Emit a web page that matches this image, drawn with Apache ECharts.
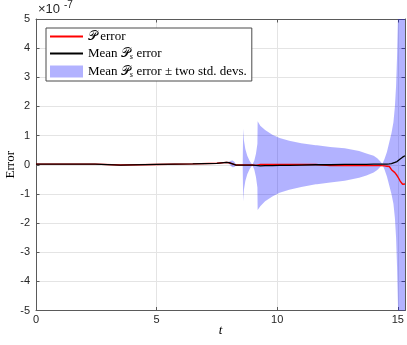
<!DOCTYPE html>
<html>
<head>
<meta charset="utf-8">
<script src="https://cdn.jsdelivr.net/npm/echarts@6/dist/echarts.min.js"></script>
<style>
html, body { margin: 0; padding: 0; background: #fff; }
#chart { width: 407px; height: 345px; }
</style>
</head>
<body>
<div id="chart"></div>
<script>
// values are in units of 1e-7
var tVals   = [0, 1.0, 2.45, 2.5, 3.5, 5.0, 6.5, 7.5, 7.9, 8.0, 8.08, 8.15, 8.22, 8.3, 8.36, 8.57, 8.59, 8.62, 8.68, 8.76, 8.86, 8.97, 9.05, 9.12, 9.18, 9.19, 9.3, 9.5, 9.8, 10.1, 10.5, 11.0, 11.6, 11.65, 12.2, 12.8, 13.4, 13.7, 14.0, 14.15, 14.28, 14.36, 14.45, 14.55, 14.65, 14.74, 14.82, 14.88, 14.93, 14.97, 15.01, 15.05, 15.1, 15.2, 15.25, 15.3];
var meanErr = [0.02, 0.02, 0.02, -0.02, -0.01, 0.01, 0.03, 0.05, 0.08, 0.07, 0.05, 0.03, 0.01, -0.01, -0.01, -0.01, -0.01, -0.01, -0.01, -0.01, -0.01, -0.01, -0.01, -0.02, -0.03, -0.03, -0.04, -0.03, -0.03, -0.02, -0.02, -0.01, 0.0, 0.0, 0.0, 0.01, 0.01, 0.01, 0.02, 0.02, 0.02, 0.02, 0.02, 0.02, 0.03, 0.04, 0.06, 0.08, 0.1, 0.11, 0.13, 0.16, 0.2, 0.26, 0.29, 0.31];
var pErr    = [0.02, 0.02, 0.02, -0.02, -0.01, 0.01, 0.03, 0.05, 0.08, 0.07, 0.05, 0.03, 0.01, -0.01, -0.01, -0.01, -0.01, -0.01, -0.01, -0.01, -0.01, -0.01, -0.01, -0.02, -0.03, 0.0, 0.01, 0.01, 0.01, 0.01, 0.01, 0.01, 0.01, -0.03, -0.03, -0.03, -0.03, -0.03, -0.03, -0.03, -0.03, -0.03, -0.04, -0.05, -0.06, -0.17, -0.22, -0.27, -0.32, -0.37, -0.42, -0.48, -0.56, -0.67, -0.69, -0.66];
var twoStd  = [0, 0, 0, 0, 0, 0, 0, 0, 0, 0.03, 0.09, 0.12, 0.09, 0.02, 0, 0, 1.25, 0.85, 0.55, 0.32, 0.14, 0.01, 0.15, 0.4, 0.75, 1.52, 1.38, 1.22, 1.06, 0.94, 0.84, 0.75, 0.67, 0.665, 0.61, 0.56, 0.46, 0.38, 0.29, 0.2, 0.09, 0.01, 0.18, 0.42, 0.75, 1.05, 1.4, 1.9, 2.6, 3.6, 5.0, 7.5, 11, 18, 20, 20];

function pairs(ys) {
    return tVals.map(function (t, i) { return [t, ys[i]]; });
}
var bandHigh = meanErr.map(function (m, i) { return m + twoStd[i]; });
var bandLow = meanErr.map(function (m, i) { return m - twoStd[i]; });

var axisCol = '#5a5a5a';
var bandCol = 'rgba(0,0,255,0.3)';

var myChart = echarts.init(document.getElementById('chart'));
var option = {
    animation: false,
    backgroundColor: '#fff',
    grid: { left: 36, right: 2, top: 19, bottom: 34.5, containLabel: false, outerBoundsMode: 'none' },
    legend: {
        show: true,
        orient: 'vertical',
        left: 46,
        top: 28,
        padding: [2, 5, 2, 3],
        itemWidth: 33,
        itemHeight: 12,
        itemGap: 3,
        backgroundColor: '#fff',
        borderColor: '#4a4a4a',
        borderWidth: 1,
        borderRadius: 0,
        data: [
            { name: 'P error', itemStyle: { opacity: 0 } },
            { name: 'Mean Ps error', itemStyle: { opacity: 0 } },
            { name: 'band', icon: 'rect', itemStyle: { color: bandCol } }
        ],
        formatter: function (name) {
            if (name === 'P error') return '{cal|𝒫} {t|error}';
            if (name === 'Mean Ps error') return '{t|Mean} {cal|𝒫}{sub|s} {t|error}';
            return '{t|Mean} {cal|𝒫}{sub|s} {t|error ± two std. devs.}';
        },
        textStyle: {
            color: '#000',
            fontFamily: 'Liberation Serif, DejaVu Serif, serif',
            fontSize: 13,
            rich: {
                t: { fontSize: 13, fontFamily: 'Liberation Serif, DejaVu Serif, serif', lineHeight: 14 },
                cal: { fontSize: 12.5, fontWeight: 'normal', fontFamily: 'DejaVu Serif, DejaVu Sans, serif', lineHeight: 14 },
                sub: { fontSize: 8.5, fontStyle: 'italic', fontFamily: 'Liberation Serif, serif', padding: [6, 0, 0, 0], lineHeight: 14 }
            }
        }
    },
    xAxis: [{
        type: 'value',
        min: 0, max: 15.3, interval: 5,
        name: 't',
        nameLocation: 'middle',
        nameGap: 14,
        nameMoveOverlap: false,
        nameTextStyle: { fontFamily: 'Liberation Serif, serif', fontStyle: 'italic', fontSize: 13, color: '#000' },
        axisLine: { show: true, onZero: false, lineStyle: { color: axisCol, width: 1 } },
        axisTick: { show: true, inside: true, length: 3.5, lineStyle: { color: axisCol } },
        axisLabel: { show: true, showMaxLabel: false, margin: 4, color: '#262626', fontSize: 11, fontFamily: 'Liberation Sans, Arial, sans-serif' },
        splitLine: { show: true, lineStyle: { color: '#e4e4e4', width: 1 } }
    }, {
        type: 'value', position: 'top',
        min: 0, max: 15.3, interval: 5,
        axisLine: { show: true, onZero: false, lineStyle: { color: axisCol, width: 1 } },
        axisTick: { show: true, inside: true, length: 3.5, lineStyle: { color: axisCol } },
        axisLabel: { show: false },
        splitLine: { show: false }
    }],
    yAxis: [{
        type: 'value',
        min: -5, max: 5, interval: 1,
        name: 'Error',
        nameLocation: 'middle',
        nameGap: 19,
        nameMoveOverlap: false,
        nameTextStyle: { fontFamily: 'Liberation Serif, serif', fontSize: 13, color: '#000' },
        axisLine: { show: true, onZero: false, lineStyle: { color: axisCol, width: 1 } },
        axisTick: { show: true, inside: true, length: 3.5, lineStyle: { color: axisCol } },
        axisLabel: { show: true, margin: 6, color: '#262626', fontSize: 11, fontFamily: 'Liberation Sans, Arial, sans-serif' },
        splitLine: { show: true, lineStyle: { color: '#e4e4e4', width: 1 } }
    }, {
        type: 'value', position: 'right',
        min: -5, max: 5, interval: 1,
        axisLine: { show: true, onZero: false, lineStyle: { color: axisCol, width: 1 } },
        axisTick: { show: true, inside: true, length: 3.5, lineStyle: { color: axisCol } },
        axisLabel: { show: false },
        splitLine: { show: false }
    }],
    graphic: [
        { type: 'text', left: 38, top: 3, style: { text: '×10', fill: '#262626', font: '13px "Liberation Sans", Arial, sans-serif' } },
        { type: 'text', left: 64, top: 0, style: { text: '-7', fill: '#262626', font: '10px "Liberation Sans", Arial, sans-serif' } }
    ],
    series: [{
        name: 'band',
        type: 'custom',
        data: [[0, 0]],
        clip: true,
        silent: true,
        itemStyle: { color: bandCol },
        z: 1,
        renderItem: function (params, api) {
            var pts = [];
            for (var i = 0; i < tVals.length; i++) pts.push(api.coord([tVals[i], bandHigh[i]]));
            for (var j = tVals.length - 1; j >= 0; j--) pts.push(api.coord([tVals[j], bandLow[j]]));
            return { type: 'polygon', shape: { points: pts }, style: { fill: bandCol, stroke: null } };
        }
    }, {
        name: 'P error',
        type: 'line',
        data: pairs(pErr),
        symbol: 'none',
        color: '#ff0000',
        lineStyle: { color: '#ff0000', width: 1.4 },
        z: 2
    }, {
        name: 'Mean Ps error',
        type: 'line',
        data: pairs(meanErr),
        symbol: 'none',
        color: '#000',
        lineStyle: { color: '#000', width: 1.3 },
        z: 3
    }]
};
myChart.setOption(option);
window.addEventListener('resize', function () { myChart.resize(); });
</script>
</body>
</html>
